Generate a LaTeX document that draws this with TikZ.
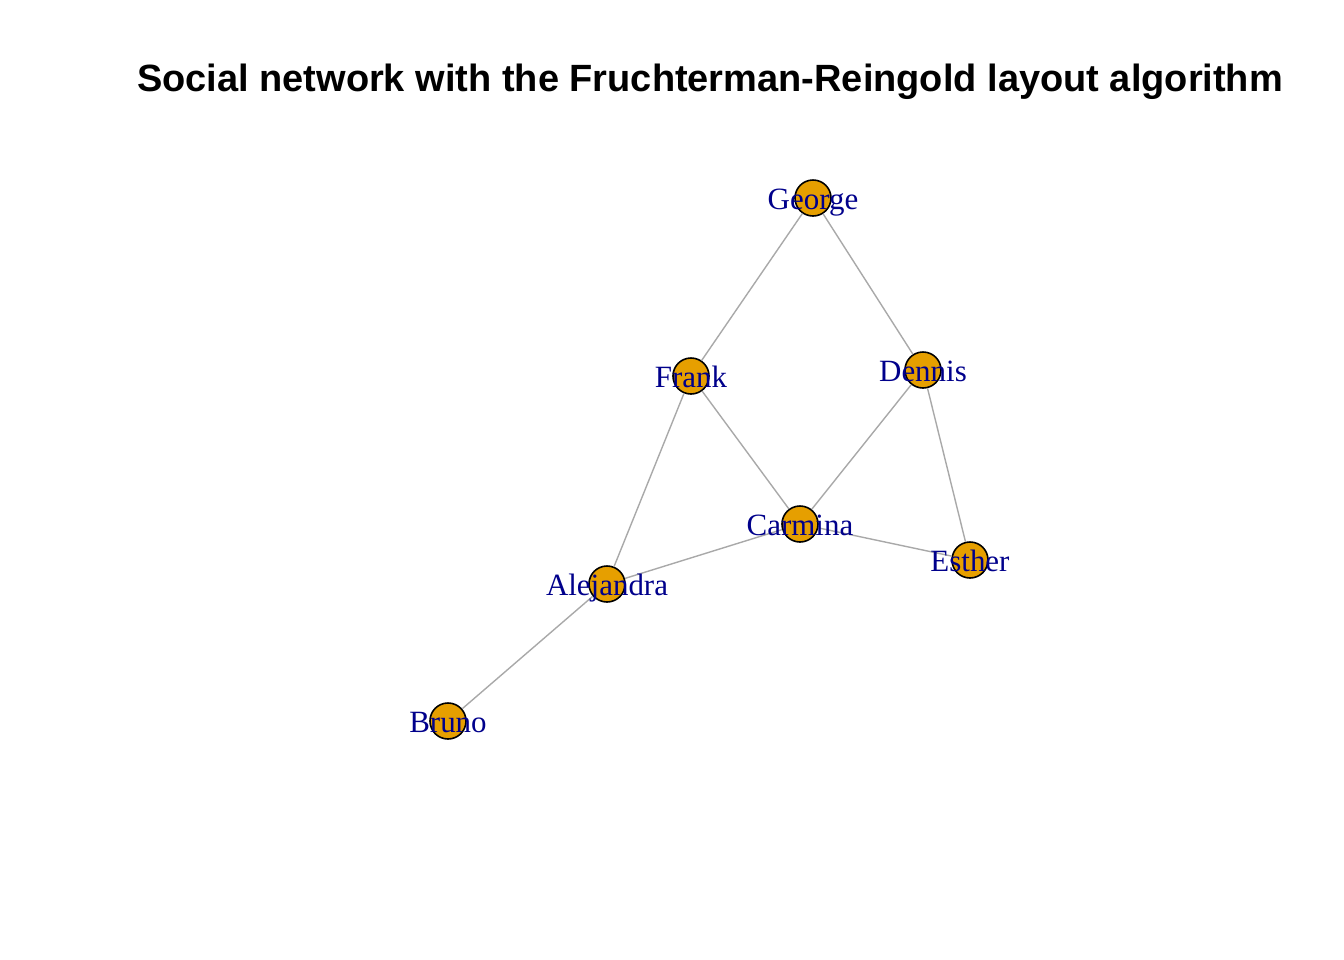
\documentclass[tikz,border=0pt]{standalone}
\usepackage{fontspec}
\setmainfont{Liberation Serif}
\newfontfamily\titlefont{Liberation Sans}
\definecolor{vorange}{HTML}{E69F00}
\definecolor{ldarkblue}{HTML}{00008B}
\definecolor{edgegrey}{HTML}{A9A9A9}

\begin{document}
\begin{tikzpicture}[x=0.01cm,y=-0.01cm,
		vertex/.style={draw=black,circle,fill=vorange,minimum size=0.36cm,inner sep=0pt,line width=0.45pt},
		vlabel/.style={text=ldarkblue,font=\fontsize{8.8}{10}\selectfont,inner sep=0pt,anchor=base,yshift=-0.11cm},
		edge/.style={draw=edgegrey,line width=0.4pt}]
		\useasboundingbox (0,0) rectangle (1344,960);
		
		\node[font=\titlefont\bfseries\fontsize{10.8}{13}\selectfont,anchor=base] (title) at (710,91) {Social network with the Fruchterman-Reingold layout algorithm};
		
		% vertices
		\node[vertex] (george) at (813,198) {};
		\node[vertex] (frank) at (691,376) {};
		\node[vertex] (dennis) at (923,370) {};
		\node[vertex] (carmina) at (800,524) {};
		\node[vertex] (esther) at (970,560) {};
		\node[vertex] (alejandra) at (607,584) {};
		\node[vertex] (bruno) at (448,721) {};
		
		% edges
		\draw[edge] (george) -- (frank);
		\draw[edge] (george) -- (dennis);
		\draw[edge] (frank) -- (carmina);
		\draw[edge] (frank) -- (alejandra);
		\draw[edge] (dennis) -- (carmina);
		\draw[edge] (dennis) -- (esther);
		\draw[edge] (carmina) -- (esther);
		\draw[edge] (carmina) -- (alejandra);
		\draw[edge] (alejandra) -- (bruno);
		
		% labels
		\node[vlabel] (georgelab) at (george) {George};
		\node[vlabel] (franklab) at (frank) {Frank};
		\node[vlabel] (dennislab) at (dennis) {Dennis};
		\node[vlabel] (carminalab) at (carmina) {Carmina};
		\node[vlabel] (estherlab) at (esther) {Esther};
		\node[vlabel] (alejandralab) at (alejandra) {Alejandra};
		\node[vlabel] (brunolab) at (bruno) {Bruno};
\end{tikzpicture}
\end{document}
